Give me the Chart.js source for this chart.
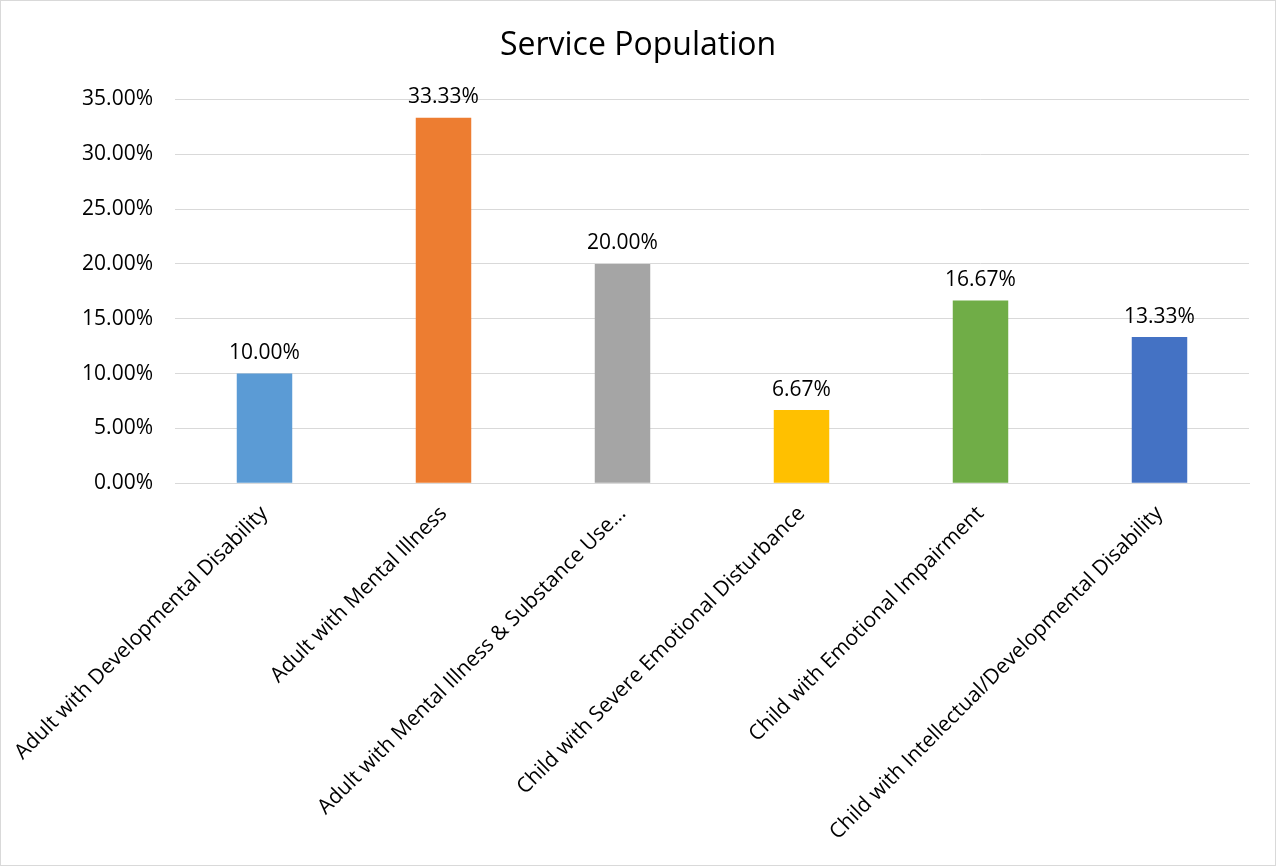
<!DOCTYPE html>
<html>
<head>
<meta charset="utf-8">
<script src="https://cdn.jsdelivr.net/npm/chart.js@4/dist/chart.umd.min.js"></script>
<style>
  body { margin: 0; background: #fff; }
  .box { position: relative; width: 1274px; height: 864px; border: 1px solid #d9d9d9; }
</style>
</head>
<body>
<div class="box"><canvas id="myChart"></canvas></div>
<script>
// ===== Chart data =====
const categories = [
  "Adult with Developmental Disability",
  "Adult with Mental Illness",
  "Adult with Mental Illness & Substance Use…",
  "Child with Severe Emotional Disturbance",
  "Child with Emotional Impairment",
  "Child with Intellectual/Developmental Disability"
];
const shares = [10.00, 33.33, 20.00, 6.67, 16.67, 13.33];   // percent
const barColors = ["#5b9bd5", "#ed7d31", "#a5a5a5", "#ffc000", "#70ad47", "#4472c4"];
const yTicks = [0, 5, 10, 15, 20, 25, 30, 35];

const FONT = "'Open Sans', 'Noto Sans', sans-serif";

// ===== Value labels above bars =====
const valueLabels = {
  id: 'valueLabels',
  afterDatasetsDraw(chart) {
    const ctx = chart.ctx;
    const meta = chart.getDatasetMeta(0);
    ctx.save();
    ctx.font = "21px " + FONT;
    ctx.fillStyle = "#000";
    ctx.textAlign = "center";
    ctx.textBaseline = "bottom";
    meta.data.forEach((bar, i) => {
      ctx.fillText(shares[i].toFixed(2) + "%", bar.x, bar.y - 10);
    });
    ctx.restore();
  }
};

let ctx = document.getElementById('myChart').getContext('2d');

let chart = new Chart(ctx, {
  type: 'bar',
  data: {
    labels: categories,
    datasets: [{
      data: shares,
      backgroundColor: barColors,
      barPercentage: 0.62,
      categoryPercentage: 0.5
    }]
  },
  options: {
    responsive: true,
    maintainAspectRatio: false,
    animation: false,
    layout: { padding: { left: 26, right: 26, top: 14, bottom: 10 } },
    plugins: {
      legend: { display: false },
      tooltip: { enabled: false },
      title: {
        display: true,
        text: "Service Population",
        color: "#000",
        font: { family: FONT, size: 32, weight: 'normal' },
        padding: { top: 12, bottom: 34 }
      }
    },
    scales: {
      x: {
        afterFit: axis => { axis.paddingLeft = 0; },
        grid: { display: false },
        border: { color: "#d9d9d9", width: 1 },
        ticks: {
          color: "#000",
          font: { family: FONT, size: 21 },
          minRotation: 45,
          maxRotation: 45,
          autoSkip: false,
          padding: 10
        }
      },
      y: {
        min: 0,
        max: 35,
        afterBuildTicks: axis => { axis.ticks = yTicks.map(v => ({ value: v })); },
        afterFit: axis => { axis.width = 148; },
        grid: { color: "#d9d9d9", drawTicks: false },
        border: { display: false },
        ticks: {
          color: "#000",
          font: { family: FONT, size: 21 },
          padding: 22,
          callback: v => v.toFixed(2) + "%"
        }
      }
    }
  },
  plugins: [valueLabels]
});
</script>
</body>
</html>
